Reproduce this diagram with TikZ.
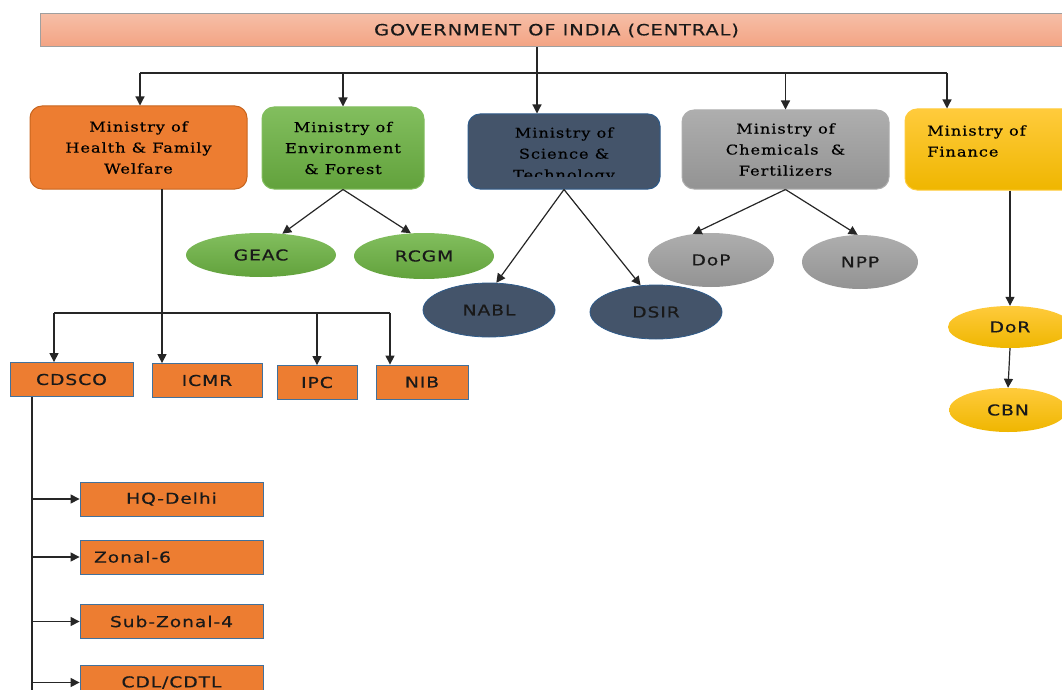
\documentclass[tikz,border=0pt]{standalone}
\usepackage{fontspec}
\setmainfont{DejaVu Serif}
\newfontfamily\unitfont[FakeStretch=1.25,LetterSpace=6,FakeBold=0.4]{DejaVu Sans}
\newfontfamily\ministryfont[FakeStretch=1.2,LetterSpace=7,FakeBold=0.5]{DejaVu Serif}
\usepackage{xcolor}
\definecolor{gov-top}{HTML}{F6BEA6}
\definecolor{gov-bottom}{HTML}{F3A383}
\definecolor{health-fill}{HTML}{ED7D31}
\definecolor{health-border}{HTML}{C8651E}
\definecolor{env-top}{HTML}{82BE5E}
\definecolor{env-bottom}{HTML}{62A23C}
\definecolor{sci-fill}{HTML}{44546A}
\definecolor{sci-border}{HTML}{2E5B8A}
\definecolor{chem-top}{HTML}{AEAEAE}
\definecolor{chem-bottom}{HTML}{939393}
\definecolor{fin-top}{HTML}{FFCB3C}
\definecolor{fin-bottom}{HTML}{EFB600}
\definecolor{unit-border}{HTML}{41719C}
\usetikzlibrary{
  shapes.geometric,
  arrows.meta
}

\begin{document}
\begin{tikzpicture}[
    x=1pt, y=-1pt,
    govbar/.style={
      rectangle,
      draw=gray!75,
      line width=1pt,
      top color=gov-top,
      bottom color=gov-bottom,
      minimum width=1033,
      minimum height=33,
      font=\unitfont\fontsize{15.5}{18}\selectfont,
      text=black!90
    },
    ministry/.style={
      rectangle,
      rounded corners=12pt,
      line width=1pt,
      inner sep=0pt,
      font=\ministryfont\fontsize{13.5}{21}\selectfont,
      text=black,
      align=center
    },
    ministrytext/.style={
      inner sep=0pt,
      font=\ministryfont\fontsize{13.5}{21}\selectfont,
      text=black
    },
    unit/.style={
      rectangle,
      draw=unit-border,
      line width=0.8pt,
      fill=health-fill,
      minimum height=34,
      inner sep=0pt,
      font=\unitfont\fontsize{15}{18}\selectfont,
      text=black!90
    },
    agency/.style={
      ellipse,
      inner sep=0pt,
      font=\unitfont\fontsize{15}{18}\selectfont,
      text=black!90
    },
    link/.style={
      -{Triangle[length=9pt,width=9pt]},
      line width=1.2pt,
      color=black!85
    },
    trunk/.style={
      line width=1.2pt,
      color=black!85
    }
  ]
    \clip (0,0) rectangle (1062,690);

    % ---- Top bar ----
    \node[govbar] (gov) at (556.5,30.5) {GOVERNMENT OF INDIA (CENTRAL)};

    % ---- Ministries ----
    \node[ministry, fill=health-fill, draw=health-border,
      minimum width=217, minimum height=83] (health) at (138.5,147.5)
      {Ministry of\\Health \& Family\\Welfare};
    \node[ministry, top color=env-top, bottom color=env-bottom, draw=env-top,
      minimum width=162, minimum height=82] (env) at (343,148)
      {Ministry of\\Environment\\\& Forest};
    \node[ministry, fill=sci-fill, draw=sci-border,
      minimum width=192, minimum height=75] (sci) at (564,151.5) {};
    \begin{scope}
      \clip (468,114) rectangle (660,176);
      \node[ministrytext, align=center] (scitext) at (564,155)
        {Ministry of\\Science \&\\Technology};
    \end{scope}
    \node[ministry, top color=chem-top, bottom color=chem-bottom, draw=chem-top,
      minimum width=207, minimum height=79] (chem) at (785.5,149.5)
      {Ministry of\\Chemicals~~\&\\Fertilizers};
    \node[ministry, top color=fin-top, bottom color=fin-bottom, draw=fin-top,
      minimum width=170, minimum height=81] (fin) at (990,149.5) {};
    \node[ministrytext, align=left, anchor=west] (fintext) at (927,141)
      {Ministry of\\Finance};

    % ---- Agencies under environment / science / chemicals ----
    \node[agency, top color=env-top, bottom color=env-bottom,
      minimum width=150, minimum height=44] (geac) at (261,255) {GEAC};
    \node[agency, top color=env-top, bottom color=env-bottom,
      minimum width=140, minimum height=46] (rcgm) at (424,256) {RCGM};
    \node[agency, fill=sci-fill, draw=sci-border, line width=0.8pt,
      minimum width=132, minimum height=54] (nabl) at (489,310) {NABL};
    \node[agency, fill=sci-fill, draw=sci-border, line width=0.8pt,
      minimum width=132, minimum height=54] (dsir) at (656,312) {DSIR};
    \node[agency, top color=chem-top, bottom color=chem-bottom,
      minimum width=126, minimum height=54] (dop) at (711,260) {DoP};
    \node[agency, top color=chem-top, bottom color=chem-bottom,
      minimum width=116, minimum height=54] (npp) at (860,262) {NPP};

    % ---- Finance chain ----
    \node[agency, top color=fin-top, bottom color=fin-bottom,
      minimum width=124, minimum height=42] (dor) at (1010,327) {DoR};
    \node[agency, top color=fin-top, bottom color=fin-bottom,
      minimum width=118, minimum height=44] (cbn) at (1008,410) {CBN};

    % ---- Health units ----
    \node[unit, minimum width=123] (cdsco) at (71.5,379.5) {CDSCO};
    \node[unit, minimum width=110] (icmr)  at (207,380.5)  {ICMR};
    \node[unit, minimum width=80]  (ipc)   at (317,382.5)  {IPC};
    \node[unit, minimum width=92]  (nib)   at (422,382)    {NIB};

    % ---- CDSCO offices ----
    \node[unit, minimum width=183] (hq)       at (171.5,499)   {HQ-Delhi};
    \node[unit, minimum width=183, text width=155, inner xsep=14, align=left]
      (zonal) at (171.5,557) {Zonal-6};
    \node[unit, minimum width=183] (subzonal) at (171.5,621.5) {Sub-Zonal-4};
    \node[unit, minimum width=183] (cdl)      at (171.5,682.5) {CDL/CDTL};

    % ---- Government -> ministries ----
    \coordinate (govdrop)  at (537,47);
    \coordinate (busleft)  at (140,73);
    \coordinate (busright) at (947,73);
    \draw[link] (govdrop) -- (govdrop |- sci.north);
    \draw[trunk] (busleft) -- (busright);
    \draw[link] (busleft) -- (busleft |- health.north);
    \draw[link] (env.north |- busleft) -- (env.north);
    \draw[link] (chem.north |- busleft) -- (chem.north);
    \draw[link] (busright) -- (busright |- fin.north);

    % ---- Ministries -> agencies ----
    \draw[link] (env.south) -- (geac.45);
    \draw[link] (env.south) -- (rcgm.120);
    \draw[link] (sci.south) -- (nabl.75);
    \draw[link] (sci.south) -- (dsir.120);
    \draw[link] (chem.south) -- (dop.125);
    \draw[link] (chem.south) -- (npp.95);
    \draw[link] (fin.south -| dor.north) -- (dor.north);
    \draw[link] (dor.south) -- (cbn.north);

    % ---- Health -> units ----
    \coordinate (healthdrop) at (162,189);
    \coordinate (hbusleft)   at (54,313);
    \coordinate (hbusright)  at (390,313);
    \draw[link] (healthdrop) -- (healthdrop |- icmr.north);
    \draw[trunk] (hbusleft) -- (hbusright);
    \draw[link] (hbusleft) -- (hbusleft |- cdsco.north);
    \draw[link] (ipc.north |- hbusleft) -- (ipc.north);
    \draw[link] (hbusright) -- (hbusright |- nib.north);

    % ---- CDSCO -> offices ----
    \coordinate (cdscospine) at (32,690);
    \draw[trunk] (cdsco.south -| cdscospine) -- (cdscospine);
    \draw[link] (hq.west -| cdscospine) -- (hq.west);
    \draw[link] (zonal.west -| cdscospine) -- (zonal.west);
    \draw[link] (subzonal.west -| cdscospine) -- (subzonal.west);
    \draw[link] (cdl.west -| cdscospine) -- (cdl.west);
  \end{tikzpicture}
\end{document}
